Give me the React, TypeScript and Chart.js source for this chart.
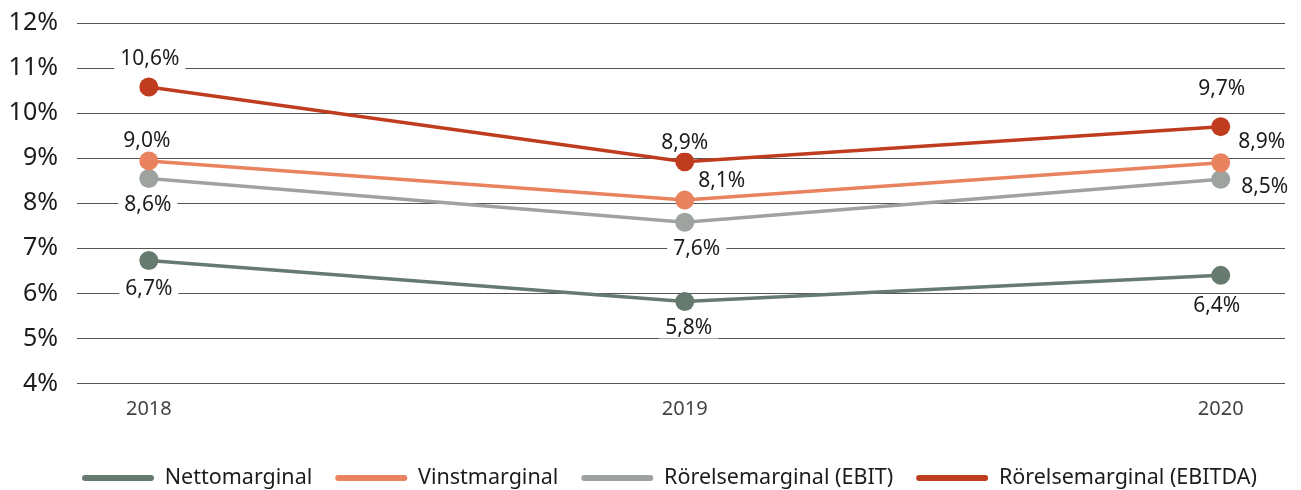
import React, { useEffect, useRef } from "react";
import { Chart, registerables } from "chart.js";

Chart.register(...registerables);

const YEARS = [2018, 2019, 2020];
const SERIES_NAMES = [
  "Nettomarginal",
  "Vinstmarginal",
  "Rörelsemarginal (EBIT)",
  "Rörelsemarginal (EBITDA)",
];
const NETTO = [6.73, 5.82, 6.4];
const VINST = [8.94, 8.07, 8.9];
const EBIT = [8.55, 7.58, 8.53];
const EBITDA = [10.58, 8.92, 9.7];
const NETTO_LABELS = ["6,7%", "5,8%", "6,4%"];
const VINST_LABELS = ["9,0%", "8,1%", "8,9%"];
const EBIT_LABELS = ["8,6%", "7,6%", "8,5%"];
const EBITDA_LABELS = ["10,6%", "8,9%", "9,7%"];
const Y_MIN = 4;
const Y_MAX = 12;

const COLORS = ["#667a6f", "#e8825f", "#9ea39f", "#bf3d1e"];
const FONT = "'Noto Sans', sans-serif";
const TEXT = "#1c1c1c";
const LEGEND_FONT_SIZE = 21.5;
const LEGEND_PADDING = 23;
const LEGEND_CENTER_Y = 478;
const LEGEND_SHIFT_X = 27;

// label offsets (px) from each point centre: [dx, dy]
const LABEL_OFFSETS = [
  [[0, 28], [4, 26], [-4, 30]],
  [[-2, -21], [37, -20], [41, -22]],
  [[-1, 26], [12, 26], [44, 7]],
  [[1, -29], [0, -20], [1, -39]],
];

const labelPlugin = {
  id: "pointLabels",
  afterLayout(chart: any) {
    const lg = chart.legend;
    if (lg) {
      const dy = LEGEND_CENTER_Y - (lg.top + LEGEND_PADDING + LEGEND_FONT_SIZE / 2);
      lg.top += dy;
      lg.bottom += dy;
      lg.left += LEGEND_SHIFT_X;
      lg.right += LEGEND_SHIFT_X;
    }
  },
  afterDatasetsDraw(chart: any) {
    const ctx = chart.ctx;
    const allLabels = [NETTO_LABELS, VINST_LABELS, EBIT_LABELS, EBITDA_LABELS];
    ctx.save();
    ctx.font = `21px ${FONT}`;
    ctx.textAlign = "center";
    ctx.textBaseline = "middle";
    chart.data.datasets.forEach((ds: any, i: number) => {
      const meta = chart.getDatasetMeta(i);
      meta.data.forEach((pt: any, j: number) => {
        const [dx, dy] = LABEL_OFFSETS[i][j];
        const x = pt.x + dx;
        const y = pt.y + dy;
        const t = allLabels[i][j];
        const w = ctx.measureText(t).width;
        ctx.fillStyle = "#ffffff";
        ctx.fillRect(x - w / 2 - 6, y - 11, w + 12, 22);
        ctx.fillStyle = TEXT;
        ctx.fillText(t, x, y + 1);
      });
    });
    ctx.restore();
  },
};

export default function App() {
  const ref = useRef<HTMLCanvasElement | null>(null);
  useEffect(() => {
    document.body.style.margin = "0";
    const values = [NETTO, VINST, EBIT, EBITDA];
    const chart = new Chart(ref.current as HTMLCanvasElement, {
      type: "line",
      data: {
        datasets: values.map((vals, i) => ({
          label: SERIES_NAMES[i],
          data: vals.map((v, j) => ({ x: YEARS[j], y: v })),
          borderColor: COLORS[i],
          backgroundColor: COLORS[i],
          borderWidth: 3.5,
          pointRadius: 9.5,
          pointHoverRadius: 9.5,
          pointBackgroundColor: COLORS[i],
          pointBorderWidth: 0,
          tension: 0,
        })),
      },
      options: {
        animation: false,
        responsive: false,
        layout: { padding: { top: 23, right: 16, left: 0, bottom: 0 } },
        scales: {
          x: {
            type: "linear",
            min: 2017.866,
            max: 2020.12,
            afterBuildTicks: (scale: any) => {
              scale.ticks = YEARS.map((y) => ({ value: y }));
            },
            afterFit: (scale: any) => {
              scale.height = 52;
              scale.paddingLeft = 0;
              scale.paddingRight = 0;
            },
            grid: { display: false, drawTicks: false },
            border: { display: false },
            ticks: {
              padding: 14,
              color: "#444",
              font: { family: FONT, size: 20 },
              callback: (v: any) => String(v),
            },
          },
          y: {
            min: Y_MIN,
            max: Y_MAX,
            afterFit: (scale: any) => {
              scale.width = 77;
              scale.paddingTop = 0;
              scale.paddingBottom = 0;
            },
            grid: { color: "#555555", lineWidth: 1, drawTicks: false },
            border: { display: false },
            ticks: {
              stepSize: 1,
              padding: 19,
              color: TEXT,
              font: { family: FONT, size: 25 },
              callback: (v: any) => v + "%",
            },
          },
        },
        plugins: {
          tooltip: { enabled: false },
          legend: {
            position: "bottom",
            labels: {
              boxWidth: 72,
              boxHeight: 6,
              padding: LEGEND_PADDING,
              color: TEXT,
              useBorderRadius: true,
              borderRadius: 3,
              font: { family: FONT, size: LEGEND_FONT_SIZE },
              generateLabels: (c: any) =>
                c.data.datasets.map((ds: any, i: number) => ({
                  text: ds.label,
                  fillStyle: COLORS[i],
                  strokeStyle: COLORS[i],
                  lineWidth: 0,
                  fontColor: TEXT,
                  datasetIndex: i,
                  hidden: false,
                  borderRadius: 3,
                })),
            },
          },
        },
      },
      plugins: [labelPlugin],
    } as any);
    return () => chart.destroy();
  }, []);
  return (
    <div style={{ width: 1301, height: 490 }}>
      <canvas ref={ref} width={1301} height={490} style={{ width: 1301, height: 490 }} />
    </div>
  );
}
